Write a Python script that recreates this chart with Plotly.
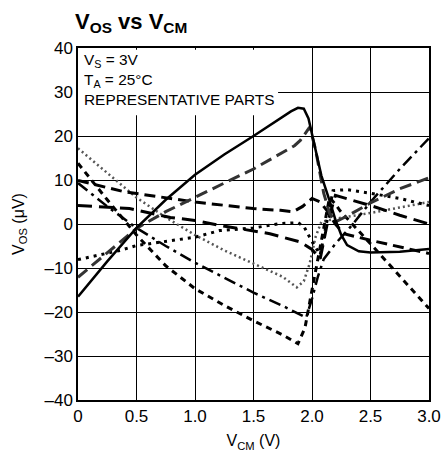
import plotly.graph_objects as go

FONT = "Liberation Sans, Arial, sans-serif"

# ---- data ----
solid_x = [0, 0.25, 0.5, 0.75, 1.0, 1.25, 1.5, 1.7, 1.82, 1.88, 1.93, 1.97, 2.02, 2.08, 2.15, 2.2, 2.25, 2.3, 2.4, 2.5, 2.75, 3.0]
solid_y = [-16.5, -8.5, -0.9, 5.5, 11.2, 15.8, 20, 23.5, 25.6, 26.4, 26.2, 24, 18, 11, 5.3, 1, -2.5, -4.8, -6.2, -6.5, -6.3, -5.7]

gray_dash_x = [0, 0.25, 0.5, 0.75, 1.0, 1.25, 1.5, 1.73, 1.85, 1.9, 1.95, 1.98, 2.03, 2.1, 2.15, 2.2, 2.3, 2.5, 2.75, 3.0]
gray_dash_y = [-12.1, -6.5, -1, 2.8, 6.1, 9.3, 12.5, 16, 17.8, 19, 21, 22, 17, 7, 2.5, 0.5, 1.8, 4.8, 8, 10.5]

dashdot_x = [0, 0.25, 0.5, 0.75, 1.0, 1.25, 1.5, 1.75, 1.95, 2.0, 2.05, 2.1, 2.2, 2.35, 2.5, 2.75, 3.0]
dashdot_y = [9.3, 4, -0.9, -5, -8.8, -12.2, -15.6, -18.6, -21.3, -17, -12, -8, -4.5, 0, 5, 12.5, 19.5]

short_dash_x = [0, 0.25, 0.5, 0.75, 1.0, 1.25, 1.5, 1.75, 1.88, 1.94, 2.0, 2.08, 2.15, 2.2, 2.24, 2.5, 2.75, 3.0]
short_dash_y = [13.8, 5.5, -2.5, -9.5, -14.7, -18.5, -22, -25.2, -27.2, -23.6, -15, -4, 6, 4.5, 3, -4.5, -11.8, -19.2]

dash_a_x = [0, 0.4, 1.0, 1.5, 1.73, 1.84, 1.92, 2.0, 2.07, 2.13, 2.2, 2.27, 2.5, 2.75, 3.0]
dash_a_y = [9.9, 7.3, 5, 3.5, 3.1, 2.8, 4, 5.8, 5, 3, 0, -2.2, -3.7, -5.2, -6.7]

dash_b_x = [0, 0.44, 0.79, 1.0, 1.21, 1.5, 1.64, 1.9, 2.0, 2.07, 2.13, 2.2, 2.5, 2.75, 3.0]
dash_b_y = [4.2, 3.5, 1.5, 0.8, -0.3, -1.5, -2.2, -4.1, -5.8, -7.9, 0, 6.5, 4.2, 2, 0]

dot_x = [0, 0.36, 0.5, 0.79, 1.0, 1.21, 1.5, 1.73, 1.88, 1.93, 2.0, 2.07, 2.12, 2.18, 2.3, 2.5, 2.75, 3.0]
dot_y = [-8.1, -6, -4.9, -3.8, -3, -1.5, -0.9, 0.1, 0.3, -0.5, -4, -7, 0, 7.6, 7.8, 7, 5.8, 4.2]

fine_dot_x = [0, 0.25, 0.5, 0.75, 1.0, 1.25, 1.5, 1.75, 1.87, 1.93, 1.98, 2.03, 2.08, 2.2, 2.5, 2.75, 3.0]
fine_dot_y = [17.2, 11.5, 6, 1.5, -2.5, -6, -9, -12, -14.4, -13, -9, -3, 0.5, 1.2, 2.5, 3.8, 5]

x_ticks = [0, 0.5, 1.0, 1.5, 2.0, 2.5, 3.0]
x_labels = ["0", "0.5", "1.0", "1.5", "2.0", "2.5", "3.0"]
y_ticks = [-40, -30, -20, -10, 0, 10, 20, 30, 40]
y_labels = ["–40", "–30", "–20", "–10", "0", "10", "20", "30", "40"]

series = [
    (fine_dot_x, fine_dot_y, "#555555", 2.5, "2px,3px"),
    (dot_x, dot_y, "black", 3, "3px,5px"),
    (dash_b_x, dash_b_y, "black", 3, "14px,7px"),
    (dash_a_x, dash_a_y, "black", 3, "11px,6px"),
    (short_dash_x, short_dash_y, "black", 3, "6px,5px"),
    (dashdot_x, dashdot_y, "black", 2.5, "12px,5px,3px,5px"),
    (gray_dash_x, gray_dash_y, "#333333", 3, "12px,6px"),
    (solid_x, solid_y, "black", 2.5, "solid"),
]

fig = go.Figure()
for xs, ys, col, w, d in series:
    fig.add_trace(go.Scatter(x=xs, y=ys, mode="lines",
                             line=dict(color=col, width=w, dash=d),
                             showlegend=False, hoverinfo="skip"))

# white box behind the condition text (hides gridlines)
fig.add_shape(type="rect", xref="x", yref="y", x0=0, x1=1.71, y0=24.7, y1=39.6,
              fillcolor="white", line=dict(width=0), layer="between")

fig.add_annotation(xref="paper", yref="paper", x=0.011, y=0.997,
                   xanchor="left", yanchor="top", align="left", showarrow=False,
                   text="V<sub>S</sub> = 3V<br>T<sub>A</sub> = 25°C<br>REPRESENTATIVE PARTS",
                   font=dict(family=FONT, size=15.4, color="black"))

fig.update_layout(
    width=441, height=462,
    margin=dict(l=78, r=12, t=48, b=62),
    paper_bgcolor="white", plot_bgcolor="white",
    font=dict(family=FONT, size=17, color="black"),
    title=dict(text="<b>V<sub>OS</sub> vs V<sub>CM</sub></b>", x=75/441, xanchor="left",
               xref="container", yref="container", y=1 - 21/462, yanchor="middle",
               font=dict(family=FONT, size=22, color="black")),
    xaxis=dict(range=[0, 3], tickvals=x_ticks, ticktext=x_labels, automargin=False,
               showgrid=True, gridcolor="black", gridwidth=1,
               showline=True, linecolor="black", linewidth=1.5, mirror=True,
               zeroline=False, ticks="", ticklen=0, tickfont=dict(size=17),
               title=dict(text="V<sub>CM</sub> (V)", standoff=10, font=dict(size=16))),
    yaxis=dict(range=[-40, 40], tickvals=y_ticks, ticktext=y_labels, automargin=False,
               showgrid=True, gridcolor="black", gridwidth=1,
               showline=True, linecolor="black", linewidth=1.5, mirror=True,
               zeroline=False, ticks="", ticklen=0, tickfont=dict(size=17),
               title=dict(text="V<sub>OS</sub> (μV)", standoff=16, font=dict(size=16))),
)

fig.write_html("out.html")
